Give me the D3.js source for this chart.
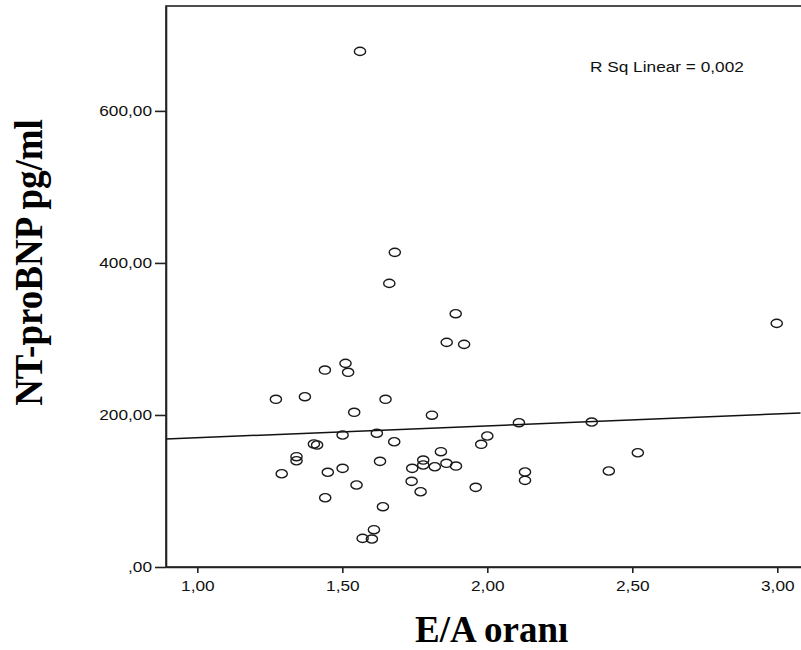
<!DOCTYPE html>
<html>
<head>
<meta charset="utf-8">
<script src="https://cdn.jsdelivr.net/npm/d3@7"></script>
<style>
  body { margin: 0; background: #fff; }
  svg { display: block; }
</style>
</head>
<body>
<div id="chart"></div>
<script>
// E/A ratio vs NT-proBNP
var eaRatio = [1.561, 1.681, 1.662, 1.891, 1.860, 1.920, 2.998, 1.511, 1.440, 1.520,
  1.271, 1.371, 1.649, 1.541, 1.809, 1.501, 1.619, 1.679, 1.402, 1.413,
  1.840, 1.342, 1.342, 1.630, 1.779, 1.741, 1.779, 1.819, 1.859, 1.892,
  1.291, 1.450, 1.501, 1.739, 1.549, 1.770, 1.441, 1.640, 1.609, 1.570,
  1.602, 2.109, 2.360, 2.000, 1.979, 1.960, 2.130, 2.130, 2.519, 2.419];
var ntProBNP = [678.3, 413.9, 373.1, 333.2, 295.5, 292.9, 320.5, 267.9, 259.1, 256.1,
  220.6, 224.0, 220.6, 203.5, 199.7, 173.6, 175.9, 164.8, 161.8, 160.5,
  151.7, 145.1, 139.8, 139.0, 140.7, 129.8, 134.2, 131.9, 136.4, 132.8,
  122.7, 124.6, 129.8, 112.7, 107.9, 99.0, 91.1, 79.3, 49.1, 37.7,
  36.8, 189.8, 190.7, 172.3, 161.4, 104.8, 125.0, 114.0, 150.3, 126.3];

var xTicks = [1.0, 1.5, 2.0, 2.5, 3.0];
var xTickLabels = ["1,00", "1,50", "2,00", "2,50", "3,00"];
var yTicks = [0, 200, 400, 600];
var yTickLabels = [",00", "200,00", "400,00", "600,00"];

// linear fit line (intercept, slope) and its label
var fitIntercept = 154.5;
var fitSlope = 15.6;
var rsqLabel = "R Sq Linear = 0,002";

var xTitle = "E/A oranı";
var yTitle = "NT-proBNP pg/ml";

var width = 801, height = 650;
var plotLeft = 166, plotTop = 6, plotRight = 800.5, plotBottom = 567;
var stretch = 1.15;

var svg = d3.select("#chart")
    .append("svg")
    .attr("width", width)
    .attr("height", height);

var x = d3.scaleLinear()
    .domain([0.892, 3.08])
    .range([plotLeft, plotRight]);

var y = d3.scaleLinear()
    .domain([0, 738])
    .range([plotBottom, plotTop]);

// frame (right side runs off the page)
svg.append("rect")
    .attr("x", plotLeft)
    .attr("y", plotTop)
    .attr("width", width + 20 - plotLeft)
    .attr("height", plotBottom - plotTop)
    .style("fill", "none")
    .style("stroke", "#222")
    .style("stroke-width", 1.6);

var xAxis = svg.append("g")
    .attr("transform", "translate(0," + plotBottom + ")")
    .call(d3.axisBottom(x)
      .tickValues(xTicks)
      .tickSize(6)
      .tickSizeOuter(0)
      .tickPadding(7)
      .tickFormat(function(d, i) { return xTickLabels[i]; }));

var yAxis = svg.append("g")
    .attr("transform", "translate(" + plotLeft + ",0)")
    .call(d3.axisLeft(y)
      .tickValues(yTicks)
      .tickSize(11)
      .tickSizeOuter(0)
      .tickFormat(function(d, i) { return yTickLabels[i]; }));

[xAxis, yAxis].forEach(function(g) {
  g.select(".domain").style("stroke", "#222").style("stroke-width", 1.6);
  g.selectAll(".tick line").style("stroke", "#222").style("stroke-width", 1.6);
  g.selectAll("text")
    .style("font-family", "'Liberation Sans', Arial, sans-serif")
    .style("font-size", "15px")
    .style("fill", "#111");
});
xAxis.selectAll("text").attr("transform", "scale(" + stretch + ",1)");
yAxis.selectAll("text")
    .attr("x", -14 / stretch)
    .attr("transform", "scale(" + stretch + ",1)");

// fit line
svg.append("line")
    .attr("x1", x(x.domain()[0]))
    .attr("y1", y(fitIntercept + fitSlope * x.domain()[0]))
    .attr("x2", x(x.domain()[1]))
    .attr("y2", y(fitIntercept + fitSlope * x.domain()[1]))
    .style("stroke", "#111")
    .style("stroke-width", 1.5);

// points
svg.append("g")
  .selectAll("ellipse")
    .data(d3.range(eaRatio.length))
  .enter().append("ellipse")
    .attr("cx", function(i) { return x(eaRatio[i]); })
    .attr("cy", function(i) { return y(ntProBNP[i]); })
    .attr("rx", 5.6)
    .attr("ry", 4.1)
    .style("fill", "none")
    .style("stroke", "#1a1a1a")
    .style("stroke-width", 1.4);

svg.append("text")
    .attr("transform", "translate(590,71.7) scale(" + stretch + ",1)")
    .style("font-family", "'Liberation Sans', Arial, sans-serif")
    .style("font-size", "15px")
    .style("fill", "#111")
    .text(rsqLabel);

svg.append("text")
    .attr("x", 491.7)
    .attr("y", 641.7)
    .attr("text-anchor", "middle")
    .style("font-family", "'Liberation Serif', 'Times New Roman', serif")
    .style("font-weight", "bold")
    .style("font-size", "37px")
    .text(xTitle);

svg.append("text")
    .attr("transform", "translate(41.7,262.5) rotate(-90) scale(1,1.08)")
    .attr("text-anchor", "middle")
    .style("font-family", "'Liberation Serif', 'Times New Roman', serif")
    .style("font-weight", "bold")
    .style("font-size", "37px")
    .text(yTitle);
</script>
</body>
</html>
